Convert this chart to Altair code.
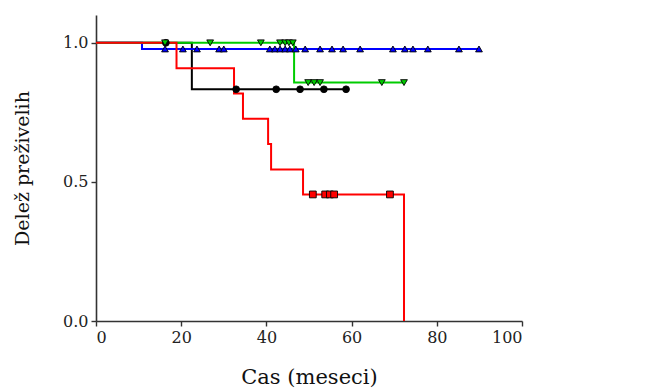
import altair as alt
import pandas as pd

groups = ["0", "1", "2", "3 ali vec"]
colors = ["#000000", "#0000ff", "#00cc00", "#ff0000"]
shapes = ["circle", "triangle-up", "triangle-down", "square"]

# step curves (time, survival)
g0_t = [0, 22.5, 58.7]
g0_s = [1.0, 0.833, 0.833]
g1_t = [0, 10.8, 89.9]
g1_s = [1.0, 0.978, 0.978]
g2_t = [0, 46.5, 72.3]
g2_s = [1.0, 0.857, 0.857]
g3_t = [0, 18.9, 32.4, 34.5, 40.4, 41.1, 48.6, 72.3]
g3_s = [1.0, 0.909, 0.818, 0.727, 0.636, 0.545, 0.455, 0.0]

# censored observations
c0_t = [16.4, 32.9, 42.3, 47.9, 53.5, 58.7]
c0_s = [1.0, 0.833, 0.833, 0.833, 0.833, 0.833]
c1_t = [16.2, 20.4, 23.7, 28.9, 30.0, 40.8, 42.0, 43.2, 44.4, 45.5, 46.9,
        49.1, 52.6, 55.4, 58.0, 62.0, 69.7, 72.5, 74.4, 77.9, 85.2, 89.9]
c1_s = [0.978] * len(c1_t)
c2_t = [16.2, 26.8, 38.7, 43.2, 44.4, 45.3, 46.2, 49.8, 51.2, 52.6, 67.1, 72.3]
c2_s = [1.0, 1.0, 1.0, 1.0, 1.0, 1.0, 1.0, 0.857, 0.857, 0.857, 0.857, 0.857]
c3_t = [50.9, 53.8, 54.9, 55.9, 69.0]
c3_s = [0.455] * 5

x_ticks = [0, 20, 40, 60, 80, 100]
y_ticks = [0.0, 0.5, 1.0]

curves = []
for g, ts, ss in zip(groups, [g0_t, g1_t, g2_t, g3_t], [g0_s, g1_s, g2_s, g3_s]):
    for t, s in zip(ts, ss):
        curves.append({"grp": g, "t": t, "s": s})
curves = pd.DataFrame(curves)

cens = []
for g, ts, ss in zip(groups, [c0_t, c1_t, c2_t, c3_t], [c0_s, c1_s, c2_s, c3_s]):
    for t, s in zip(ts, ss):
        cens.append({"grp": g, "t": t, "s": s})
cens = pd.DataFrame(cens)

FONT = "DejaVu Serif"

x_enc = alt.X("t:Q", scale=alt.Scale(domain=[0, 100], nice=False),
              axis=alt.Axis(values=x_ticks, title="Cas (meseci)", grid=False,
                            titleFontSize=21))
y_enc = alt.Y("s:Q", scale=alt.Scale(domain=[0, 1.1], nice=False),
              axis=alt.Axis(values=y_ticks, format=".1f", title="Delež preživelih",
                            grid=False, titleX=-64, titleFontSize=19))

color_scale = alt.Scale(domain=groups, range=colors)

leg = alt.Legend(title=None, orient="none", legendX=463, legendY=22,
                 padding=0, rowPadding=0, symbolSize=64,
                 symbolStrokeWidth=0.9, symbolStrokeColor="#000000",
                 labelFontSize=18, labelFont=FONT, labelColor="#111",
                 labelOffset=25, labelLimit=300)

lines = alt.Chart(curves).mark_line(interpolate="step-after", strokeWidth=2).encode(
    x=x_enc,
    y=y_enc,
    color=alt.Color("grp:N", sort=groups, legend=None, scale=color_scale),
)

points = alt.Chart(cens).mark_point(filled=True, size=46, stroke="#000000",
                                    strokeWidth=0.9, opacity=1).encode(
    x="t:Q",
    y="s:Q",
    color=alt.Color("grp:N", sort=groups, legend=leg, scale=color_scale),
    shape=alt.Shape("grp:N", sort=groups, legend=leg,
                    scale=alt.Scale(domain=groups, range=shapes)),
)

chart = alt.layer(lines, points).properties(
    width=426, height=306,
    autosize=alt.AutoSizeParams(type="none"),
    padding={"left": 96, "top": 15, "right": 145, "bottom": 70},
).configure_view(stroke=None).configure_axis(
    labelFont=FONT, titleFont=FONT, labelFontSize=16,
    labelColor="#222", titleColor="#111", titleFontWeight="normal",
    domainColor="#333", tickColor="#333", domainWidth=1.6, tickWidth=1.4, tickSize=5,
    labelPadding=3,
).configure_axisX(titlePadding=21)

chart.save("out.html", embed_options={"renderer": "svg", "actions": False})
